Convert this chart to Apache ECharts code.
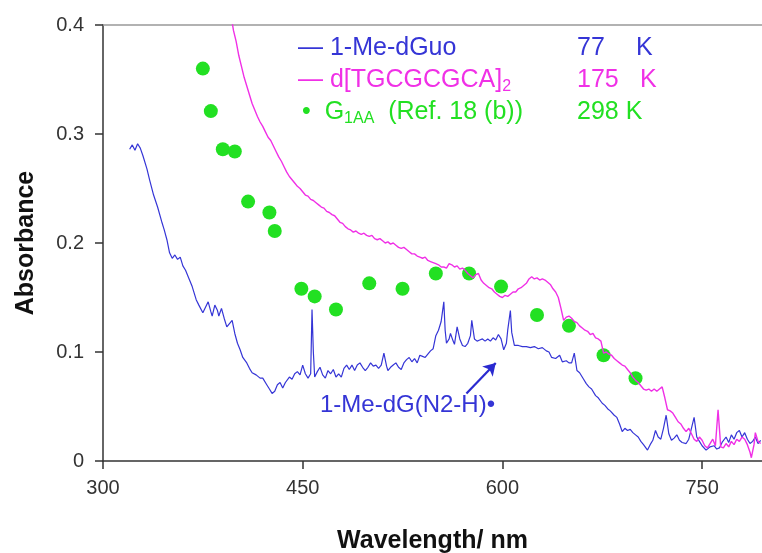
<!DOCTYPE html>
<html>
<head>
<meta charset="utf-8">
<title>Absorbance spectra</title>
<script src="https://cdn.jsdelivr.net/npm/echarts@6/dist/echarts.min.js"></script>
<style>
  html, body { margin: 0; padding: 0; background: #fff; }
  #chart { width: 762px; height: 553px; }
</style>
</head>
<body>
<div id="chart"></div>
<script>
// x axis ticks (nm) and y axis ticks (absorbance)
var xTicks = [300, 450, 600, 750];
var yTicks = [0, 0.1, 0.2, 0.3, 0.4];

// 1-Me-dGuo, 77 K  [nm, absorbance]
var meGuo77 = [
  [320,0.286],[322,0.290],[324,0.285],[326,0.291],[328,0.287],[330,0.280],[333,0.268],[335,0.258],
  [338,0.244],[341,0.233],[344,0.220],[346,0.212],[348,0.203],[350,0.191],[352,0.186],[354,0.189],
  [356,0.185],[358,0.187],[360,0.179],[362,0.175],[365,0.166],[367,0.160],[370,0.148],[372,0.143],
  [375,0.136],[377,0.141],[379,0.146],[381,0.137],[382,0.133],[384,0.143],[386,0.138],[387,0.133],
  [389,0.140],[391,0.131],[393,0.123],[395,0.126],[397,0.129],[399,0.117],[401,0.108],[403,0.102],
  [405,0.095],[408,0.090],[410,0.085],[412,0.081],[415,0.079],[418,0.076],[420,0.076],[423,0.070],
  [425,0.066],[427,0.062],[429,0.064],[431,0.070],[433,0.072],[435,0.067],[437,0.072],[440,0.077],
  [442,0.075],[444,0.080],[446,0.082],[448,0.079],[450,0.088],[452,0.080],[454,0.076],[456,0.080],
  [457,0.139],[458,0.100],[459,0.077],[461,0.082],[463,0.086],[465,0.079],[467,0.076],[469,0.083],
  [471,0.080],[473,0.084],[475,0.077],[477,0.080],[479,0.077],[481,0.085],[483,0.088],[485,0.084],
  [487,0.088],[489,0.083],[491,0.088],[493,0.090],[495,0.086],[497,0.083],[499,0.086],[501,0.090],
  [503,0.087],[505,0.088],[507,0.085],[509,0.088],[511,0.099],[513,0.087],[514,0.083],[516,0.086],
  [518,0.088],[520,0.090],[522,0.086],[524,0.084],[526,0.090],[528,0.093],[530,0.095],[532,0.091],
  [534,0.094],[536,0.090],[538,0.097],[540,0.096],[542,0.095],[544,0.098],[546,0.101],[548,0.103],
  [550,0.115],[552,0.120],[554,0.128],[556,0.146],[557,0.120],[558,0.108],[560,0.112],[561,0.117],
  [563,0.110],[564,0.107],[566,0.123],[568,0.112],[570,0.106],[572,0.105],[574,0.108],[576,0.115],
  [577,0.129],[579,0.112],[581,0.110],[583,0.111],[585,0.112],[587,0.110],[589,0.112],[591,0.110],
  [593,0.113],[595,0.111],[597,0.116],[599,0.112],[601,0.102],[603,0.108],[604,0.120],[606,0.138],
  [607,0.118],[609,0.106],[612,0.106],[615,0.105],[618,0.105],[621,0.104],[624,0.105],[627,0.103],
  [630,0.104],[633,0.101],[635,0.100],[637,0.095],[640,0.094],[643,0.097],[645,0.091],[648,0.092],
  [650,0.090],[652,0.090],[654,0.099],[656,0.083],[658,0.081],[661,0.075],[663,0.071],[665,0.068],
  [667,0.066],[670,0.060],[672,0.058],[675,0.053],[677,0.051],[679,0.048],[681,0.046],[684,0.042],
  [686,0.040],[688,0.034],[690,0.027],[692,0.030],[694,0.028],[696,0.029],[698,0.026],[700,0.024],
  [702,0.022],[704,0.018],[706,0.015],[709,0.010],[711,0.015],[713,0.019],[715,0.028],[717,0.022],
  [719,0.020],[721,0.030],[723,0.042],[725,0.025],[727,0.019],[729,0.021],[731,0.024],[733,0.019],
  [735,0.017],[738,0.016],[740,0.020],[742,0.030],[744,0.040],[746,0.022],[748,0.018],[750,0.014],
  [753,0.010],[756,0.013],[759,0.014],[761,0.011],[763,0.012],[765,0.017],[768,0.022],[770,0.017],
  [772,0.024],[774,0.020],[776,0.026],[778,0.028],[780,0.022],[782,0.026],[784,0.020],[786,0.016],
  [788,0.018],[790,0.022],[792,0.016],[794,0.019]
];

// d[TGCGCGCA]2, 175 K  [nm, absorbance]
var tgcg175 = [
  [396,0.410],[398,0.395],[400,0.385],[402,0.372],[404,0.362],[406,0.352],[408,0.344],[410,0.336],
  [412,0.328],[414,0.322],[416,0.316],[418,0.311],[420,0.307],[422,0.302],[424,0.297],[426,0.294],
  [428,0.289],[430,0.284],[432,0.279],[434,0.275],[436,0.270],[438,0.265],[440,0.261],[442,0.258],
  [444,0.255],[446,0.252],[448,0.250],[450,0.247],[452,0.244],[454,0.243],[456,0.240],[458,0.239],
  [460,0.237],[462,0.235],[464,0.233],[466,0.232],[468,0.229],[470,0.228],[472,0.226],[474,0.225],
  [476,0.222],[478,0.219],[480,0.218],[482,0.215],[484,0.213],[486,0.212],[488,0.210],[490,0.211],
  [492,0.209],[494,0.208],[496,0.209],[498,0.207],[500,0.206],[502,0.207],[504,0.204],[506,0.203],
  [508,0.204],[510,0.202],[512,0.200],[514,0.201],[516,0.199],[518,0.200],[520,0.198],[522,0.196],
  [524,0.195],[526,0.196],[528,0.194],[530,0.192],[532,0.190],[534,0.190],[536,0.188],[538,0.187],
  [540,0.186],[542,0.187],[544,0.184],[546,0.183],[548,0.182],[550,0.181],[552,0.180],[554,0.178],
  [556,0.178],[558,0.177],[560,0.181],[562,0.180],[564,0.178],[566,0.179],[568,0.176],[570,0.177],
  [572,0.175],[574,0.172],[576,0.170],[578,0.168],[580,0.171],[582,0.172],[584,0.166],[586,0.163],
  [588,0.161],[590,0.159],[592,0.158],[594,0.155],[596,0.153],[598,0.151],[600,0.150],[602,0.152],
  [604,0.151],[606,0.153],[608,0.155],[610,0.155],[612,0.158],[614,0.159],[616,0.161],[618,0.163],
  [620,0.167],[622,0.169],[624,0.167],[626,0.168],[628,0.166],[630,0.167],[632,0.166],[634,0.164],
  [636,0.162],[638,0.158],[640,0.155],[642,0.150],[644,0.140],[646,0.129],[648,0.132],[650,0.133],
  [652,0.131],[654,0.128],[656,0.127],[658,0.124],[660,0.122],[662,0.120],[664,0.119],[666,0.116],
  [668,0.117],[670,0.113],[672,0.112],[674,0.110],[676,0.099],[678,0.100],[680,0.098],[682,0.097],
  [684,0.094],[686,0.092],[688,0.090],[690,0.088],[692,0.087],[694,0.084],[696,0.081],[698,0.077],
  [700,0.074],[702,0.072],[704,0.069],[706,0.066],[708,0.065],[710,0.066],[712,0.064],[714,0.066],
  [716,0.064],[718,0.066],[720,0.068],[722,0.058],[724,0.047],[726,0.046],[728,0.044],[730,0.040],
  [732,0.036],[734,0.034],[736,0.030],[738,0.027],[740,0.030],[742,0.025],[744,0.020],[746,0.018],
  [748,0.022],[750,0.019],[752,0.014],[754,0.012],[756,0.016],[758,0.020],[760,0.014],[762,0.047],
  [764,0.013],[766,0.012],[768,0.016],[770,0.013],[772,0.018],[774,0.015],[776,0.020],[778,0.018],
  [780,0.022],[782,0.020],[784,0.015],[786,0.008],[787,0.003],[789,0.015],[790,0.026],[792,0.018],
  [794,0.016]
];

// G1AA (Ref. 18 (b)), 298 K
var g1aaNm  = [375, 381, 390, 399, 409, 425, 429, 449, 459, 475, 500, 525, 550, 575, 599, 626, 650, 676, 700];
var g1aaAbs = [0.360, 0.321, 0.286, 0.284, 0.238, 0.228, 0.211, 0.158, 0.151, 0.139, 0.163, 0.158, 0.172, 0.172, 0.160, 0.134, 0.124, 0.097, 0.076];

// arrow of the N2-H annotation: tail and head [nm, absorbance]
var arrowTail = [573, 0.062];
var arrowHead = [595, 0.090];

var BLUE = "#3535d6";
var MAGENTA = "#f030e6";
var GREEN = "#22e022";
var FONT = "Liberation Sans, Arial, sans-serif";

var g1aa = g1aaNm.map(function (x, i) { return [x, g1aaAbs[i]]; });

var myChart = echarts.init(document.getElementById("chart"));

function legendText(x, y, text, color, rich) {
  return {
    type: "text",
    left: x,
    top: y - 15,
    style: {
      text: text,
      fill: color,
      font: "25px " + FONT,
      rich: rich || {}
    }
  };
}

var subStyle = function (color) {
  return { sub: { fontSize: 16, fill: color, fontFamily: FONT, padding: [12, 0, 0, 0] },
           t: { fontSize: 25, fill: color, fontFamily: FONT } };
};

myChart.setOption({
  animation: false,
  backgroundColor: "#fff",
  grid: { left: 103, right: 0, top: 25, bottom: 92, outerBoundsMode: "none", containLabel: false },
  xAxis: [
    {
      type: "value",
      min: 300,
      max: 795,
      interval: 150,
      name: "Wavelength/ nm",
      nameLocation: "middle",
      nameGap: 68,
      nameTextStyle: { fontFamily: FONT, fontSize: 25, fontWeight: "bold", color: "#111" },
      axisLine: { lineStyle: { color: "#333", width: 1.5 } },
      axisTick: { show: true, length: 8, lineStyle: { color: "#333", width: 1.5 } },
      axisLabel: {
        margin: 17,
        fontFamily: FONT,
        fontSize: 20,
        color: "#333",
        showMaxLabel: false,
        formatter: function (v) { return xTicks.indexOf(v) >= 0 ? String(v) : ""; }
      },
      splitLine: { show: false }
    },
    {
      type: "value",
      position: "top",
      min: 300,
      max: 795,
      axisLine: { show: true, lineStyle: { color: "#999", width: 1.5 } },
      axisTick: { show: false },
      axisLabel: { show: false },
      splitLine: { show: false }
    }
  ],
  yAxis: {
    type: "value",
    min: 0,
    max: 0.4,
    interval: 0.1,
    name: "Absorbance",
    nameLocation: "middle",
    nameGap: 64,
    nameTextStyle: { fontFamily: FONT, fontSize: 25, fontWeight: "bold", color: "#111" },
    axisLine: { show: true, lineStyle: { color: "#333", width: 1.5 } },
    axisTick: { show: true, length: 8, lineStyle: { color: "#333", width: 1.5 } },
    axisLabel: {
      margin: 19,
      fontFamily: FONT,
      fontSize: 20,
      color: "#333",
      formatter: function (v) {
        var s = yTicks.filter(function (t) { return Math.abs(t - v) < 1e-9; })[0];
        return s === undefined ? "" : String(s);
      }
    },
    splitLine: { show: false }
  },
  series: [
    {
      name: "1-Me-dGuo",
      type: "line",
      data: meGuo77,
      showSymbol: false,
      lineStyle: { color: BLUE, width: 1.2 },
      markLine: {
        silent: true,
        symbol: ["none", "arrow"],
        symbolSize: [11, 12],
        label: { show: false },
        lineStyle: { color: "#2a2ad0", width: 2.2, type: "solid" },
        data: [[{ coord: arrowTail }, { coord: arrowHead }]]
      }
    },
    {
      name: "d[TGCGCGCA]2",
      type: "line",
      data: tgcg175,
      showSymbol: false,
      lineStyle: { color: MAGENTA, width: 1.4 }
    },
    {
      name: "G1AA",
      type: "scatter",
      data: g1aa,
      symbolSize: 14,
      itemStyle: { color: GREEN, opacity: 1 }
    }
  ],
  graphic: [
    legendText(298, 51, "— 1-Me-dGuo", BLUE),
    legendText(577, 51, "77", BLUE),
    legendText(636, 51, "K", BLUE),
    legendText(298, 83, "{t|— d[TGCGCGCA]}{sub|2}", MAGENTA, subStyle(MAGENTA)),
    legendText(577, 83, "175", MAGENTA),
    legendText(640, 83, "K", MAGENTA),
    legendText(302, 115, "{t|•  G}{sub|1AA}{t|  (Ref. 18 (b))}", GREEN, subStyle(GREEN)),
    legendText(577, 115, "298 K", GREEN),
    {
      type: "text",
      left: 320,
      top: 393,
      style: { text: "1-Me-dG(N2-H)•", fill: BLUE, font: "24px " + FONT }
    }
  ]
});
</script>
</body>
</html>
